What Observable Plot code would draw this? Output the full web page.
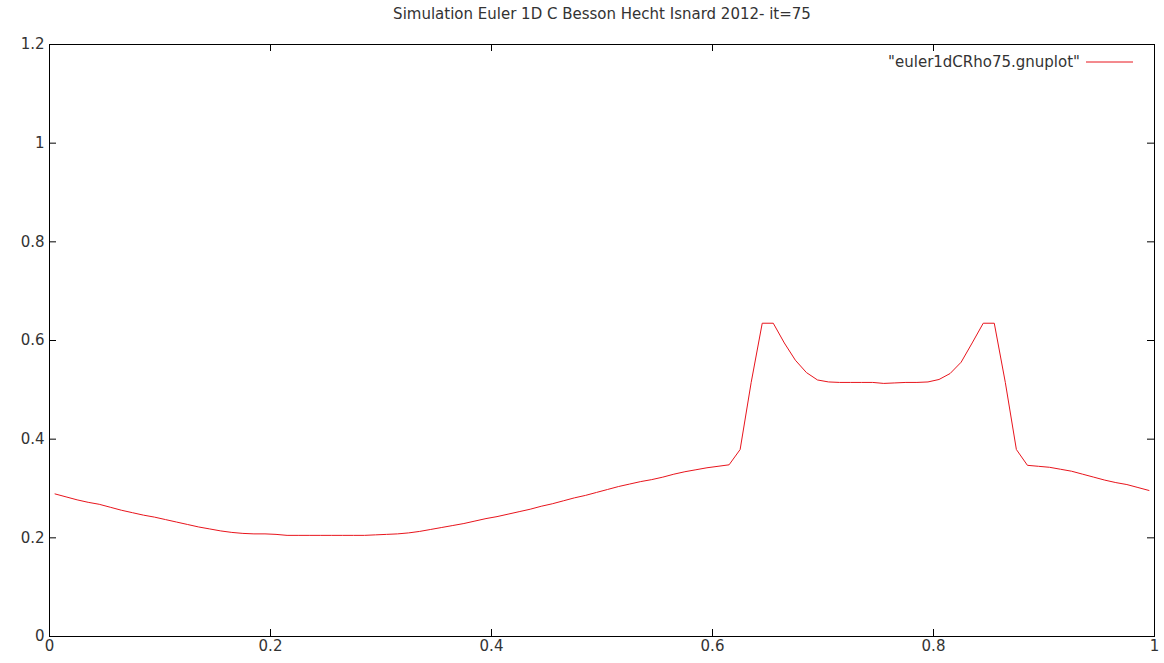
<!DOCTYPE html>
<html>
<head>
<meta charset="utf-8">
<script src="https://cdn.jsdelivr.net/npm/d3@7"></script>
<script src="https://cdn.jsdelivr.net/npm/@observablehq/plot@0.6"></script>
<style>
  html, body { margin: 0; padding: 0; background: #fff; }
  #chart svg { display: block; }
</style>
</head>
<body>
<div id="chart"></div>
<script>
const titleText = "Simulation Euler 1D C Besson Hecht Isnard 2012- it=75";
const legendLabel = "\"euler1dCRho75.gnuplot\"";

// cell centres
const xs = [
  0.005, 0.015, 0.025, 0.035, 0.045, 0.055, 0.065, 0.075, 0.085, 0.095,
  0.105, 0.115, 0.125, 0.135, 0.145, 0.155, 0.165, 0.175, 0.185, 0.195,
  0.205, 0.215, 0.225, 0.235, 0.245, 0.255, 0.265, 0.275, 0.285, 0.295,
  0.305, 0.315, 0.325, 0.335, 0.345, 0.355, 0.365, 0.375, 0.385, 0.395,
  0.405, 0.415, 0.425, 0.435, 0.445, 0.455, 0.465, 0.475, 0.485, 0.495,
  0.505, 0.515, 0.525, 0.535, 0.545, 0.555, 0.565, 0.575, 0.585, 0.595,
  0.605, 0.615, 0.625, 0.635, 0.645, 0.655, 0.665, 0.675, 0.685, 0.695,
  0.705, 0.715, 0.725, 0.735, 0.745, 0.755, 0.765, 0.775, 0.785, 0.795,
  0.805, 0.815, 0.825, 0.835, 0.845, 0.855, 0.865, 0.875, 0.885, 0.895,
  0.905, 0.915, 0.925, 0.935, 0.945, 0.955, 0.965, 0.975, 0.985, 0.995
];
// density rho
const rho = [
  0.289, 0.283, 0.277, 0.272, 0.268, 0.262, 0.256, 0.251, 0.246, 0.242,
  0.237, 0.232, 0.227, 0.222, 0.218, 0.214, 0.211, 0.209, 0.208, 0.208,
  0.207, 0.205, 0.205, 0.205, 0.205, 0.205, 0.205, 0.205, 0.205, 0.206,
  0.207, 0.208, 0.210, 0.213, 0.217, 0.221, 0.225, 0.229, 0.234, 0.239,
  0.243, 0.248, 0.253, 0.258, 0.264, 0.269, 0.275, 0.281, 0.286, 0.292,
  0.298, 0.304, 0.309, 0.314, 0.318, 0.323, 0.329, 0.334, 0.338, 0.342,
  0.345, 0.348, 0.379, 0.515, 0.635, 0.635, 0.595, 0.560, 0.535, 0.520,
  0.516, 0.515, 0.515, 0.515, 0.515, 0.513, 0.514, 0.515, 0.515, 0.516,
  0.521, 0.533, 0.556, 0.595, 0.635, 0.635, 0.515, 0.379, 0.347, 0.345,
  0.343, 0.339, 0.335, 0.329, 0.323, 0.317, 0.312, 0.308, 0.302, 0.296
];
const xTicks = [0, 0.2, 0.4, 0.6, 0.8, 1];
const yTicks = [0, 0.2, 0.4, 0.6, 0.8, 1, 1.2];

const data = xs.map((x, i) => ({x, rho: rho[i]}));

const W = 1164, H = 663;
const mT = 44, mB = 27, mL = 49, mR = 10;
const plotH = H - mT - mB, plotW = W - mL - mR;
const tickLen = 7;
const font = "DejaVu Sans, sans-serif";
const fs = 15;
const fmt = d3.format("~g");

function legendMark(index, scales, values, dims) {
  const g = d3.create("svg:g");
  const xr = dims.width - dims.marginRight;
  const y = dims.marginTop + 18;
  g.append("text")
    .attr("x", xr - 74).attr("y", y)
    .attr("text-anchor", "end").attr("dy", "0.35em")
    .attr("font-family", font).attr("font-size", fs).attr("fill", "#333")
    .text(legendLabel);
  g.append("line")
    .attr("x1", xr - 68).attr("x2", xr - 21)
    .attr("y1", y).attr("y2", y)
    .attr("stroke", "#e8141c").attr("stroke-width", 1);
  return g.node();
}

const chart = Plot.plot({
  width: W, height: H,
  marginTop: mT, marginBottom: mB, marginLeft: mL, marginRight: mR,
  style: {fontFamily: font, fontSize: fs + "px", color: "#333", background: "#fff"},
  x: {domain: [0, 1], label: null},
  y: {domain: [0, 1.2], label: null},
  marks: [
    Plot.axisX({ticks: xTicks, tickSize: 0, tickPadding: 4, label: null, fontSize: fs, tickFormat: fmt}),
    Plot.axisY({ticks: yTicks, tickSize: 0, tickPadding: 5, label: null, fontSize: fs, tickFormat: fmt}),
    // inward ticks, mirrored on all four sides
    Plot.tickX(xTicks, {x: d => d, insetTop: plotH - tickLen, stroke: "#000"}),
    Plot.tickX(xTicks, {x: d => d, insetBottom: plotH - tickLen, stroke: "#000"}),
    Plot.tickY(yTicks, {y: d => d, insetRight: plotW - tickLen, stroke: "#000"}),
    Plot.tickY(yTicks, {y: d => d, insetLeft: plotW - tickLen, stroke: "#000"}),
    Plot.frame({stroke: "#000", strokeWidth: 1}),
    Plot.line(data, {x: "x", y: "rho", stroke: "#e8141c", strokeWidth: 1}),
    Plot.text([titleText], {frameAnchor: "top", dy: -30, lineAnchor: "middle", fontSize: fs, fill: "#333"}),
    legendMark
  ]
});
document.getElementById("chart").appendChild(chart);
</script>
</body>
</html>
